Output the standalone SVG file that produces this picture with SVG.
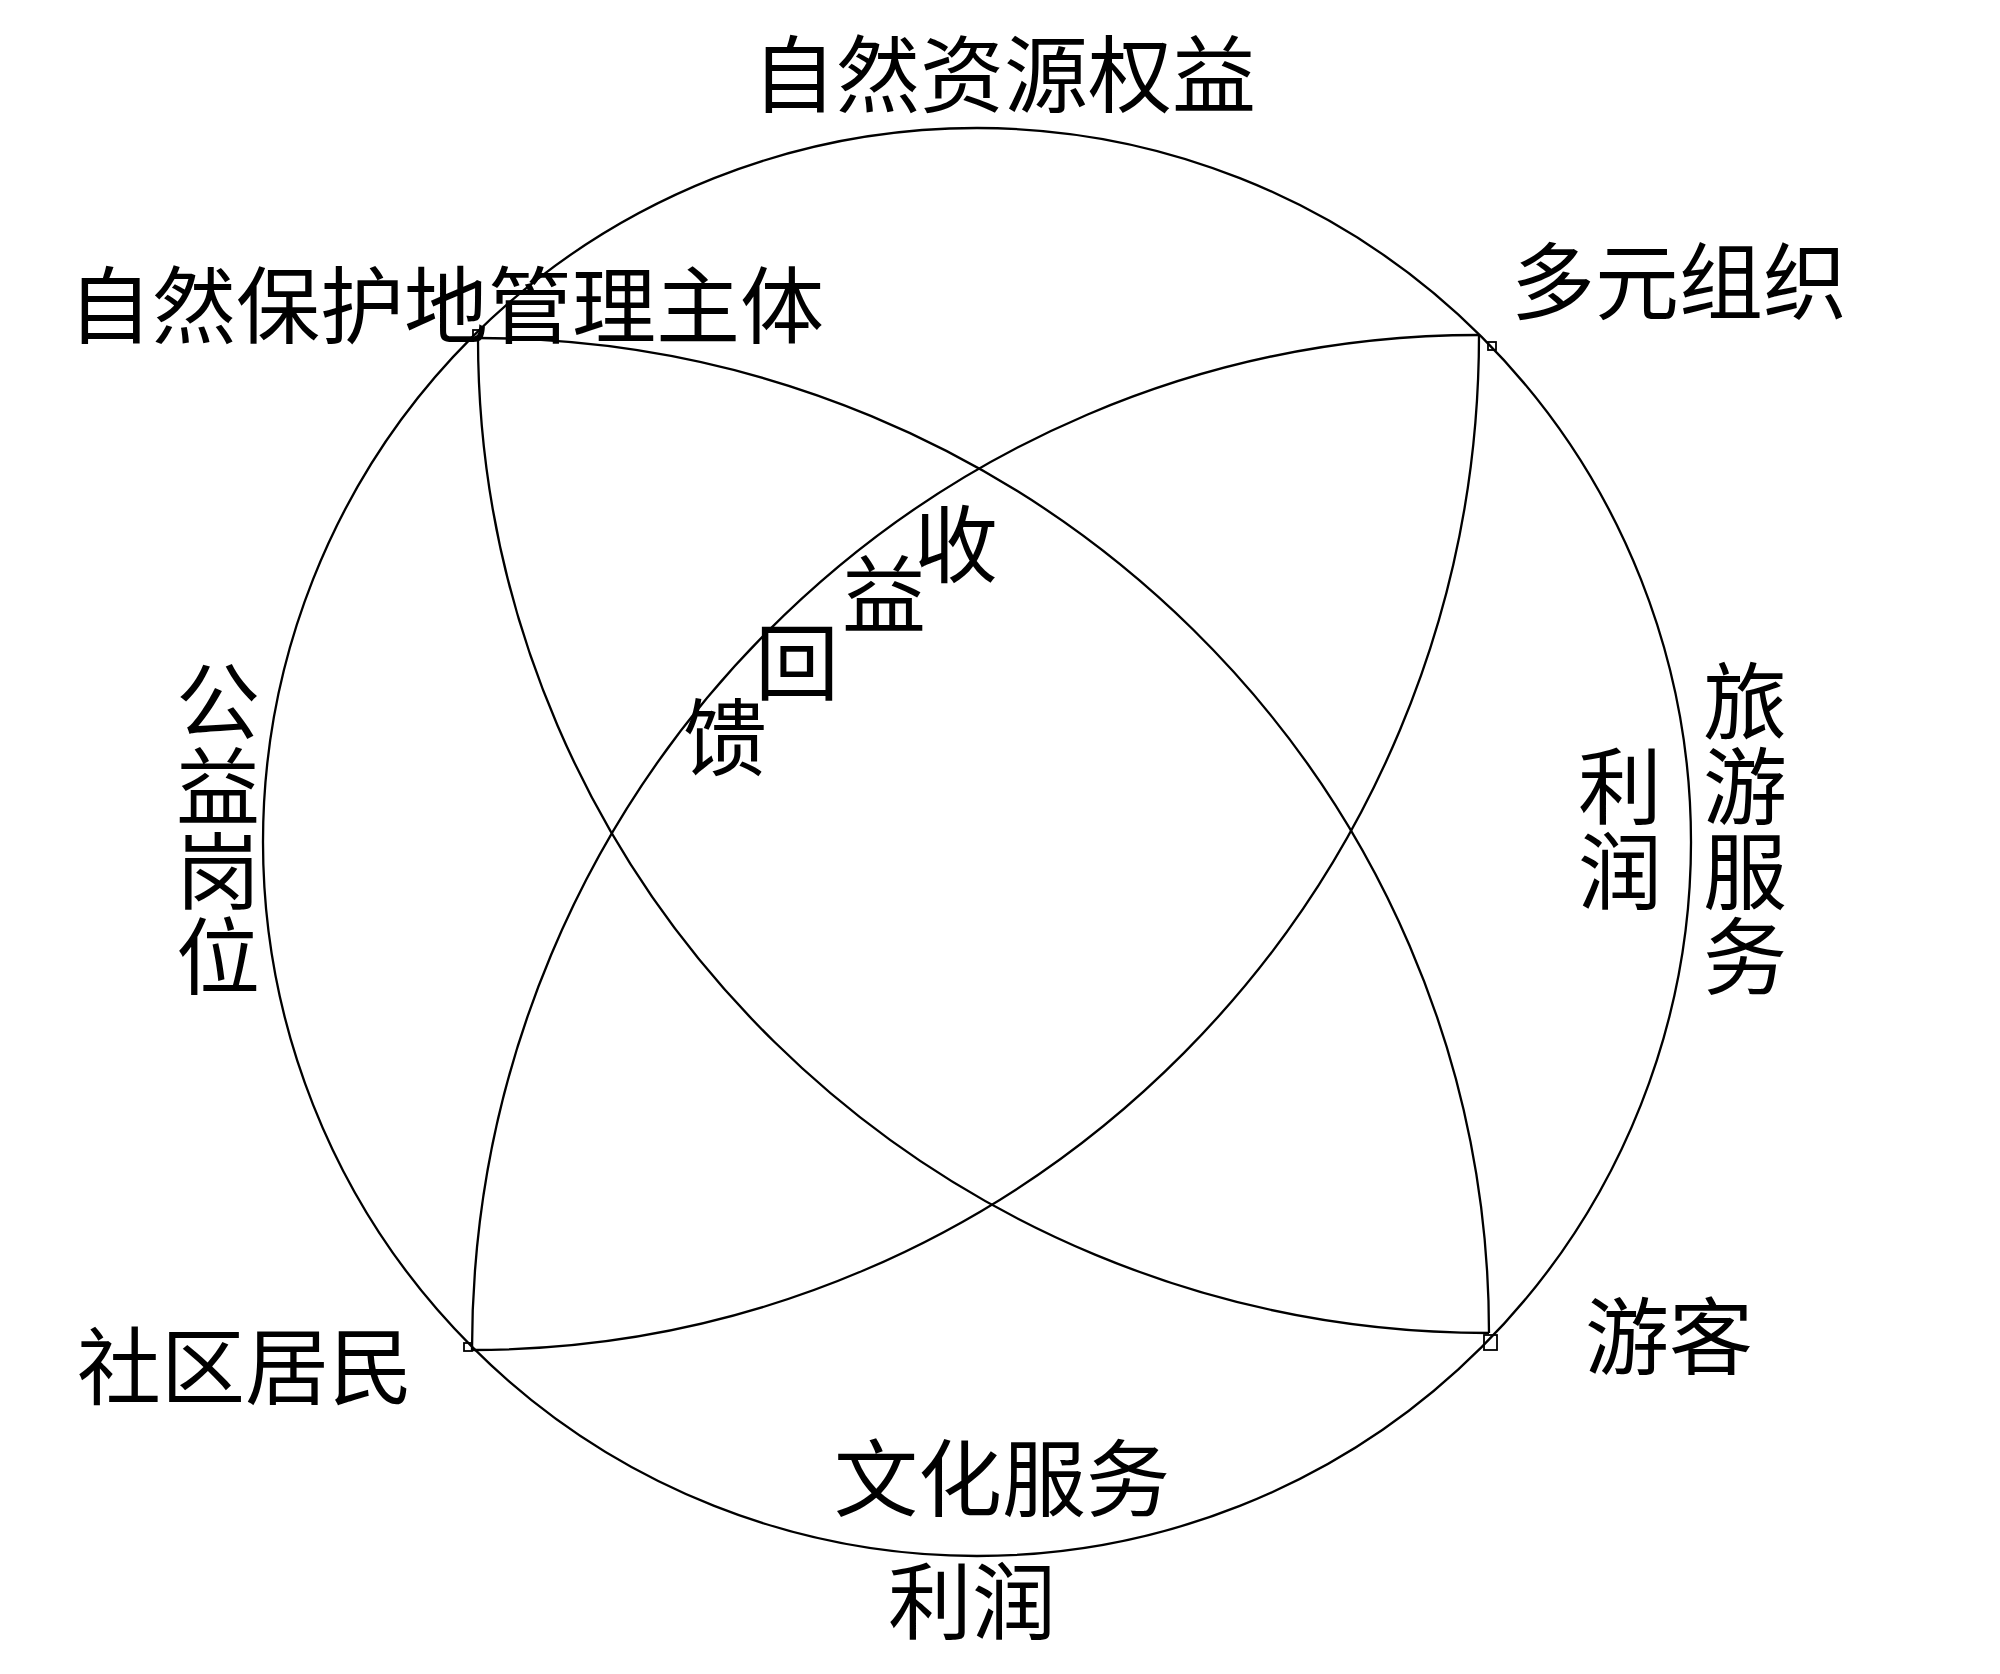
<svg xmlns="http://www.w3.org/2000/svg" width="2000" height="1674" viewBox="0 0 2000 1674">
<style>
.ln{fill:none;stroke:#000;stroke-width:2.3}
.mk{fill:none;stroke:#000;stroke-width:1.8}
.t{font-family:"Noto Sans CJK SC","Noto Sans",sans-serif;font-size:84px;fill:#000;text-anchor:middle}
.v{font-family:"Noto Sans CJK SC","Noto Sans",sans-serif;font-size:84px;fill:#000;writing-mode:vertical-rl;text-anchor:start;letter-spacing:1px}
</style>
<rect width="2000" height="1674" fill="#fff"/>
<g id="connectors">
<circle class="ln" cx="977" cy="842" r="714"/>
<path class="ln" d="M478,338 C1036,338 1489,783 1489,1333"/>
<path class="ln" d="M478,338 C478,888 931,1333 1489,1333"/>
<path class="ln" d="M1479,335 C1479,896 1028,1350 472,1350"/>
<path class="ln" d="M1479,335 C923,335 472,789 472,1350"/>
<rect class="mk" x="473" y="330" width="8" height="8"/>
<rect class="mk" x="1488" y="342" width="8" height="8"/>
<rect class="mk" x="464" y="1343" width="8" height="8"/>
<rect class="mk" x="1484" y="1335" width="13" height="15"/>
</g>
<g id="node-resource"><text class="t" x="1004" y="106">自然资源权益</text></g>
<g id="node-manager"><text class="t" x="446" y="337">自然保护地管理主体</text></g>
<g id="node-org"><text class="t" x="1679" y="313">多元组织</text></g>
<g id="node-tourism"><text class="v" x="1745" y="659">旅游服务</text></g>
<g id="node-profit-right"><text class="v" x="1620" y="744">利润</text></g>
<g id="node-jobs"><text class="v" x="218" y="659">公益岗位</text></g>
<g id="node-residents"><text class="t" x="245" y="1398">社区居民</text></g>
<g id="node-visitors"><text class="t" x="1669" y="1368">游客</text></g>
<g id="node-culture"><text class="t" x="1002" y="1510">文化服务</text></g>
<g id="node-profit-bottom"><text class="t" x="972" y="1633">利润</text></g>
<g id="node-feedback"><text class="t"><tspan x="956" y="576">收</tspan><tspan x="884" y="626">益</tspan><tspan x="797" y="694">回</tspan><tspan x="725" y="769">馈</tspan></text></g>
</svg>
